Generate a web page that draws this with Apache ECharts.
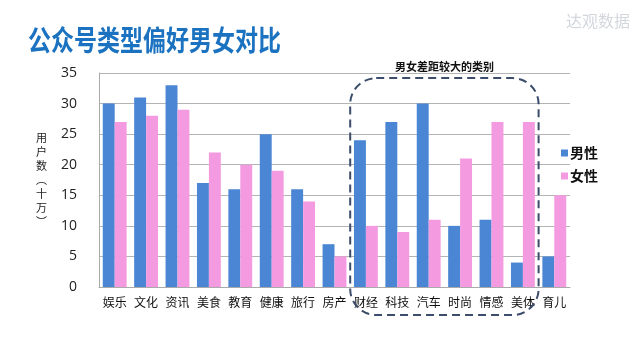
<!DOCTYPE html>
<html><head><meta charset="utf-8">
<script src="https://cdn.jsdelivr.net/npm/echarts@6/dist/echarts.min.js"></script>
<style>html,body{margin:0;padding:0;background:#fff}#c{width:640px;height:360px}</style>
</head><body><div id="c"></div>
<script>
var categories = ['娱乐','文化','资讯','美食','教育','健康','旅行','房产','财经','科技','汽车','时尚','情感','美体','育儿'];
var male = [30,31,33,17,16,25,16,7,24,27,30,10,11,4,5];
var female = [27,28,29,22,20,19,14,5,10,9,11,21,27,27,15];
var seriesNames = ['男性','女性'];
var yTicks = [0,5,10,15,20,25,30,35];
var highlightFrom = '财经', highlightTo = '美体';
var titleText = '公众号类型偏好男女对比';

var font = '"Noto Sans CJK SC","Microsoft YaHei",sans-serif';
var chart = echarts.init(document.getElementById('c'));
chart.setOption({
  animation:false,
  backgroundColor:'#ffffff',
  title:[{text:'达观数据',right:5,top:8,textStyle:{fontFamily:font,fontSize:16,fontWeight:'normal',color:'#d3d7dc'}}],
  legend:{orient:'vertical',left:556,top:141,itemWidth:7,itemHeight:7,itemGap:9,icon:'rect',
    textStyle:{fontFamily:font,fontSize:14,color:'#111',fontWeight:'bold',padding:[0,0,0,-3]},data:seriesNames},
  grid:{left:99,right:70,top:73,bottom:73},
  xAxis:{type:'category',data:categories,
    axisLine:{lineStyle:{color:'#aaa'}},axisTick:{show:false},
    axisLabel:{fontFamily:font,fontSize:12,color:'#111',margin:9,interval:0}},
  yAxis:{type:'value',min:yTicks[0],max:yTicks[yTicks.length-1],interval:5,
    name:'用\n户\n数\n︵\n十\n万\n︶',nameLocation:'middle',nameRotate:0,nameGap:52,
    nameTextStyle:{fontFamily:font,fontSize:11,color:'#222',lineHeight:14},
    axisLine:{show:true,lineStyle:{color:'#aaa'}},axisTick:{show:false},
    axisLabel:{fontFamily:'"Open Sans",Arial,sans-serif',fontSize:14,color:'#222',margin:22},
    splitLine:{lineStyle:{color:'#b4b4b4'}}},
  series:[
    {name:seriesNames[0],type:'bar',data:male,barGap:'0%',barCategoryGap:'24%',itemStyle:{color:'#4a86d4'}},
    {name:seriesNames[1],type:'bar',data:female,itemStyle:{color:'#f39ae0'}}
  ]
});
var i0 = categories.indexOf(highlightFrom), i1 = categories.indexOf(highlightTo);
var p0 = chart.convertToPixel({gridIndex:0},[i0,34]);
var p1 = chart.convertToPixel({gridIndex:0},[i1,0]);
var band = p1[0]-chart.convertToPixel({gridIndex:0},[i1-1,0])[0];
var x0 = p0[0]-band/2, x1 = p1[0]+band/2;
chart.setOption({graphic:[
  {type:'text',x:28,y:26,scaleX:1,scaleY:1.25,style:{text:titleText,font:'bold 23px '+font,fill:'#1a72c0'},z:100},
  {type:'rect',shape:{x:x0,y:p0[1]-1,width:x1-x0,height:p1[1]+28-(p0[1]-1),r:26},
   style:{fill:'none',stroke:'#3b4d6b',lineWidth:2,lineDash:[8,5]},z:100},
  {type:'text',style:{text:'男女差距较大的类别',x:(x0+x1)/2,y:p0[1]-12,align:'center',verticalAlign:'middle',
   font:'bold 11px '+font,fill:'#111'},z:100}
]});
</script></body></html>
